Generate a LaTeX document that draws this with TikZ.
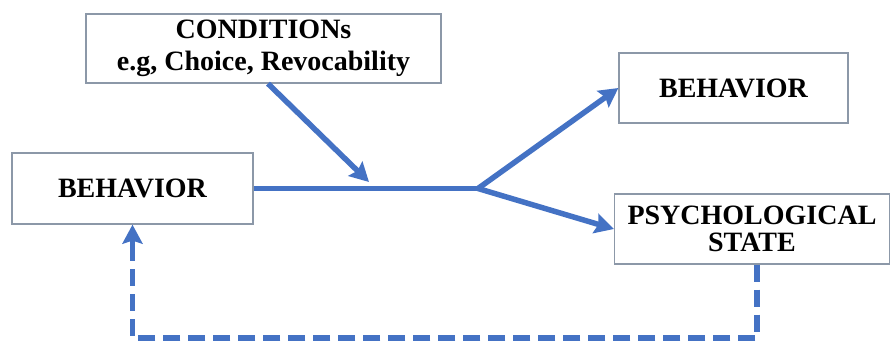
\documentclass[tikz,border=0pt]{standalone}
\usepackage{fontspec}
\setmainfont{Liberation Serif}
\usetikzlibrary{arrows.meta}
\definecolor{arrowblue}{HTML}{4472C4}
\definecolor{boxedge}{HTML}{8C98A8}
\begin{document}
\begin{tikzpicture}[x=1pt,y=-1pt,
  box/.style={draw=boxedge, line width=1.3pt, fill=white, rectangle, inner sep=0pt,
    align=center, font=\bfseries\fontsize{28}{31}\selectfont},
  conn/.style={draw=arrowblue, line width=5.5pt},
  tip/.style={-{Stealth[inset=3pt,length=19pt,width=20pt]}},
  fb/.style={conn, dash pattern=on 17pt off 8pt}
]
\useasboundingbox (0,0) rectangle (890,343);
\node[box, minimum width=355pt, minimum height=69pt] (cond) at (263.5,48.5)
  {CONDITIONs\\[1pt]e.g, Choice, Revocability};
\node[box, minimum width=241pt, minimum height=71pt] (beh1) at (132.5,188.5) {BEHAVIOR};
\node[box, minimum width=229pt, minimum height=70pt] (beh2) at (733.5,88) {BEHAVIOR};
\node[box, minimum width=275pt, minimum height=70pt, font=\bfseries\fontsize{28}{27}\selectfont] (psych) at (752,229) {PSYCHOLOGICAL\\STATE};
\coordinate (j) at (478,188.5);
\coordinate (ctip) at (369,182);
\coordinate (low1) at (757,338);
\coordinate (low2) at (132.5,338);
\draw[conn] (beh1.east) -- (j);
\draw[conn,tip] ([xshift=4.5pt]cond.south) -- (ctip);
\draw[conn,tip] (j) -- (beh2.west);
\draw[conn,tip] (j) -- (psych.west);
\draw[fb] (psych.south -| low1) -- (low1) -- (low2) -- ([yshift=-14pt]beh1.south);
\draw[conn,tip] ([yshift=-19pt]beh1.south) -- (beh1.south);
\end{tikzpicture}
\end{document}
